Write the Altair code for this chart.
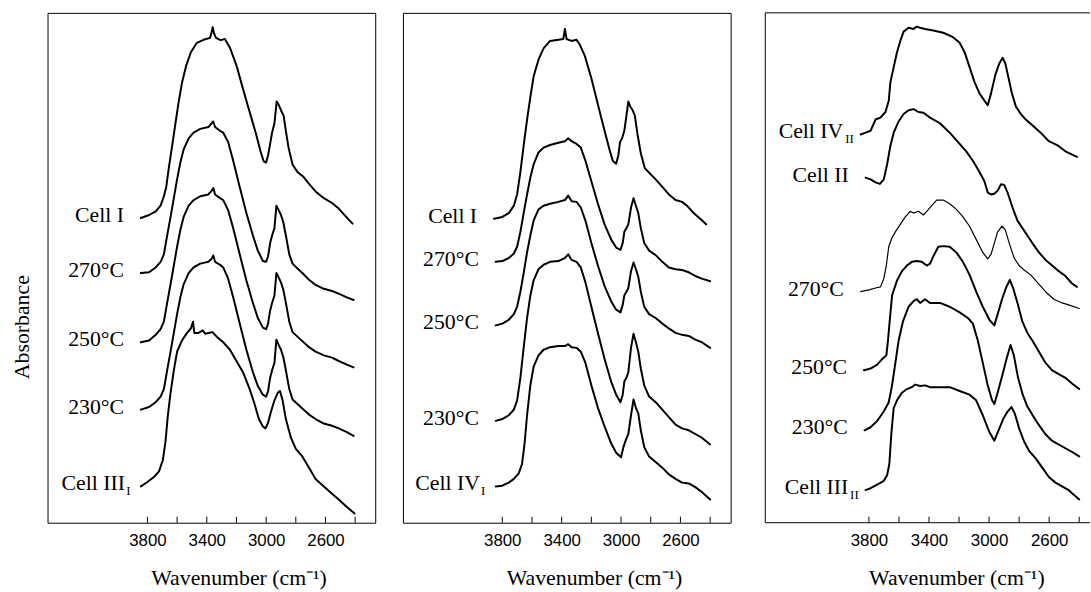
import altair as alt
import pandas as pd

SERIF = "Liberation Serif"
SANS = "Liberation Sans"

# ---------------- Panel 1 ----------------
P1_WN_CELL1 = [3844, 3789, 3744, 3711, 3689, 3673, 3656, 3633, 3611, 3589, 3567, 3538, 3507, 3467, 3422,
               3378, 3369, 3360, 3351, 3338, 3307, 3278, 3244, 3200, 3156, 3111, 3067, 3038, 3016, 3000,
               2987, 2973, 2960, 2944, 2929, 2916, 2900, 2882, 2867, 2849, 2822, 2789, 2751, 2711, 2667,
               2611, 2556, 2511, 2456, 2418]
P1_AB_CELL1 = [271.3, 274, 277.3, 282.3, 290.7, 299, 315.7, 335.7, 355.7, 375, 391.7, 407.3, 419, 427.3, 430,
               431.7, 435.7, 441.3, 435.7, 431.7, 429.7, 430.7, 423, 407.3, 386.3, 365.7, 345.7, 330.7, 321.7, 320.7,
               327.3, 337.3, 347.3, 355.7, 375, 372.3, 367.3, 362.3, 349, 334, 319, 312.3, 308.3, 301.7, 295,
               289, 284.7, 279.7, 271.7, 266.3]
P1_WN_T = [3844, 3789, 3744, 3711, 3689, 3667, 3644, 3622, 3600, 3578, 3556, 3522, 3489, 3444, 3389,
           3367, 3356, 3344, 3311, 3289, 3256, 3222, 3178, 3133, 3089, 3056, 3022, 3000, 2987, 2973,
           2960, 2944, 2931, 2918, 2900, 2884, 2867, 2844, 2822, 2789, 2756, 2711, 2667, 2611, 2556,
           2511, 2456, 2411]
P1_AB_270 = [222.3, 223, 227.3, 232.3, 239, 255.7, 272.3, 289, 305.7, 320.7, 332.3, 342.3, 347.3, 350.7, 352.3,
             355.7, 357.3, 352.3, 349, 347.3, 339, 322.3, 299, 275.7, 255.7, 242.3, 233, 232.3, 237.3, 249,
             255.7, 262.3, 282.3, 279, 274, 267.3, 255.7, 239, 230.7, 226.3, 222.3, 216.3, 211.7, 208.3, 206.3,
             204, 200.7, 198.3]
P1_AB_250 = [160.7, 162.3, 167.3, 172.3, 179, 195.7, 212.3, 229, 245.7, 260.7, 272.3, 282.3, 287.3, 290.7, 292.3,
             295.7, 298, 292.3, 289, 287.3, 278.3, 262.3, 239, 215.7, 195.7, 182.3, 173.7, 172.3, 177.3, 189,
             195.7, 202.3, 222.3, 219, 214, 207.3, 195.7, 179, 169.7, 165.7, 161.7, 156.3, 152.3, 149, 147,
             144, 140.7, 138.3]
P1_AB_230 = [100.7, 103, 107.3, 112.3, 119, 135.7, 152.3, 169, 185.7, 200.7, 212.3, 222.3, 227.3, 230.7, 232.3,
             235, 238, 232.3, 229.7, 227.3, 217.3, 200.7, 177.3, 154, 134, 121.7, 114, 112.3, 117.3, 129,
             135.7, 142.3, 163, 159, 154, 147.3, 135.7, 119, 109.7, 105.7, 101.7, 96.3, 92.3, 88.3, 86.3,
             84, 80.7, 77.3]
P1_WN_CELL3 = [3844, 3800, 3756, 3722, 3696, 3678, 3662, 3644, 3622, 3600, 3567, 3533, 3507, 3493, 3484,
               3456, 3427, 3411, 3389, 3362, 3333, 3289, 3244, 3200, 3156, 3111, 3078, 3049, 3022, 3004,
               2987, 2967, 2944, 2922, 2907, 2889, 2867, 2833, 2800, 2756, 2711, 2667, 2611, 2556, 2511,
               2456, 2404]
P1_AB_CELL3 = [32.3, 36.3, 40.7, 45.7, 55.7, 72.3, 95.7, 115.7, 135.7, 152.3, 162.3, 169, 173, 179, 169,
               169, 171.3, 168.3, 169, 169.7, 165.7, 160.7, 154, 144, 134, 119, 105.7, 92.3, 85.7, 84,
               89, 99, 109, 115.7, 117.3, 109, 92.3, 75.7, 65.7, 59, 49, 39, 32.3, 25.7, 20.7,
               14, 8.3]

# ---------------- Panel 2 ----------------
P2_WN_CELL1 = [3856, 3800, 3756, 3722, 3700, 3678, 3656, 3633, 3611, 3589, 3556, 3522, 3478, 3422, 3389,
               3378, 3367, 3333, 3300, 3278, 3244, 3200, 3156, 3111, 3078, 3056, 3033, 3018, 3007, 2993,
               2978, 2964, 2951, 2938, 2922, 2907, 2889, 2867, 2840, 2804, 2767, 2722, 2678, 2633, 2589,
               2556, 2511, 2467, 2427]
P2_AB_CELL1 = [270.7, 272.3, 275.7, 282.3, 292.3, 312.3, 335.7, 359, 379, 397.3, 412.3, 422.3, 429, 430, 430.7,
               439.7, 430.7, 429, 430, 425.7, 415.7, 395.7, 372.3, 349, 332.3, 322.3, 319.7, 327.3, 339, 342.3,
               349, 362.3, 375, 370.7, 367.3, 362.3, 345.7, 329, 315.7, 310.7, 305.7, 299, 292.3, 287.3, 285.7,
               282.3, 275.7, 270.7, 265.7]
P2_WN_T = [3844, 3800, 3756, 3722, 3700, 3678, 3656, 3633, 3611, 3589, 3556, 3522, 3478, 3422, 3378,
           3356, 3333, 3300, 3271, 3240, 3200, 3156, 3111, 3067, 3033, 3004, 2989, 2978, 2964, 2951,
           2933, 2916, 2900, 2884, 2867, 2844, 2811, 2767, 2722, 2678, 2633, 2589, 2544, 2500, 2456,
           2400]
P2_AB_270 = [232.3, 233, 235.7, 239.7, 245.7, 259, 275.7, 292.3, 307.3, 319, 329.7, 334, 336.3, 338.3, 339.7,
             342.3, 339.7, 337.3, 334, 322.3, 304, 284, 265.7, 252.3, 245, 243, 249, 259, 262.3, 265.7,
             280.7, 289, 282.3, 275.7, 262.3, 249, 242.3, 238.3, 232.3, 227.3, 225.7, 225, 223, 219.7, 217.3,
             215]
P2_AB_250 = [175.7, 177.3, 180.7, 185.7, 192.3, 205.7, 222.3, 240.7, 255.7, 269, 279, 282.3, 284, 285.7, 287.3,
             291.3, 286.3, 285.7, 280.7, 269, 249, 229, 210.7, 197.3, 189.7, 187.3, 194, 202.3, 205.7, 209,
             224, 231.7, 225.7, 219, 205.7, 192.3, 185.7, 182.3, 177.3, 173, 169, 167.3, 166.3, 163, 160.7,
             155.7]
P2_AB_230 = [90.7, 92.3, 95.7, 100.7, 109, 129, 155.7, 182.3, 202.3, 215.7, 225.7, 229.7, 232.3, 233, 235.7,
             239, 234, 232.3, 227.3, 214, 192.3, 169, 145.7, 125.7, 114, 107.3, 114, 125.7, 129, 134,
             155.7, 168.3, 160.7, 152.3, 137.3, 122.3, 112.3, 107.3, 100.7, 94, 87.3, 84, 82.3, 79, 75.7,
             69.7]
P2_WN_CELL4 = [3844, 3800, 3756, 3722, 3689, 3667, 3651, 3633, 3611, 3589, 3556, 3522, 3478, 3422, 3378,
               3356, 3333, 3300, 3271, 3240, 3200, 3156, 3111, 3067, 3033, 3000, 2984, 2967, 2951, 2933,
               2916, 2900, 2884, 2867, 2844, 2811, 2767, 2722, 2678, 2633, 2589, 2544, 2500, 2456, 2400]
P2_AB_CELL4 = [32.3, 33, 35.7, 39, 44, 52.3, 69, 95.7, 122.3, 139, 149, 154, 156.3, 157.3, 157.3,
               159, 156.3, 155.7, 152.3, 142.3, 122.3, 102.3, 85.7, 70.7, 62.3, 58.3, 67.3, 74, 79, 95.7,
               109.7, 102.3, 97.3, 82.3, 67.3, 59, 54, 49, 43, 39, 35.7, 35, 31.7, 27.3, 20.7]

# ---------------- Panel 3 ----------------
P3_WN_CELL4 = [3855, 3822, 3789, 3756, 3723, 3690, 3668, 3657, 3635, 3613, 3591, 3569, 3536, 3503, 3481,
               3459, 3426, 3371, 3305, 3240, 3196, 3163, 3130, 3097, 3064, 3031, 3009, 2987, 2958, 2932,
               2910, 2892, 2870, 2848, 2822, 2789, 2756, 2712, 2657, 2602, 2547, 2492, 2415]
P3_AB_CELL4 = [345.7, 347.3, 349, 359, 360.7, 365.7, 375.7, 392.3, 405.7, 419, 429, 437.3, 440.7, 439.7, 441.7,
               440.7, 439.7, 438.3, 436.3, 432.3, 427.3, 419, 405.7, 392.3, 382.3, 375.7, 371.7, 382.3, 399, 409,
               414, 409, 395.7, 382.3, 370.7, 364, 359, 354, 347.3, 339.7, 336.3, 330.7, 325.7]
P3_WN_CELL2 = [3822, 3789, 3756, 3727, 3701, 3679, 3657, 3635, 3602, 3569, 3536, 3503, 3470, 3437, 3393,
               3327, 3262, 3196, 3152, 3108, 3064, 3031, 3009, 2987, 2965, 2943, 2921, 2899, 2877, 2844,
               2811, 2778, 2745, 2712, 2668, 2624, 2580, 2536, 2492, 2448, 2415]
P3_AB_CELL2 = [307.3, 305.7, 303, 301.7, 305.7, 319, 335.7, 347.3, 357.3, 364, 367.3, 368.3, 365.7, 365, 360.7,
               355.7, 347.3, 337.3, 330.7, 322.3, 312.3, 304, 294, 292.3, 293, 295.7, 301.3, 300.7, 294, 280.7,
               269, 262.3, 255.7, 249, 240.7, 234, 229, 224, 219.7, 213, 210]
P3_WN_270 = [3855, 3800, 3756, 3723, 3701, 3684, 3668, 3646, 3624, 3591, 3558, 3525, 3503, 3470, 3437,
             3415, 3382, 3349, 3305, 3262, 3218, 3174, 3130, 3086, 3042, 3009, 2987, 2965, 2943, 2914,
             2892, 2866, 2833, 2800, 2767, 2723, 2679, 2624, 2569, 2514, 2470, 2400]
P3_AB_270 = [205.7, 207.3, 209, 210, 217.3, 229, 245.7, 254, 259, 265.7, 272.3, 277.3, 275.7, 277.3, 274,
             277.3, 282.3, 287.3, 287.3, 284, 279, 272.3, 264, 252.3, 240.7, 235, 239, 249, 259, 264,
             260.7, 249, 235.7, 229, 225, 220.7, 214, 205.7, 199, 195.7, 194, 190.7]
P3_WN_250 = [3833, 3789, 3745, 3712, 3684, 3673, 3662, 3646, 3613, 3580, 3547, 3514, 3481, 3448, 3415,
             3393, 3371, 3338, 3305, 3262, 3218, 3174, 3130, 3086, 3042, 2998, 2965, 2943, 2914, 2888,
             2862, 2840, 2811, 2778, 2745, 2712, 2668, 2624, 2580, 2536, 2492, 2448, 2400]
P3_AB_250 = [135.7, 137.3, 140.7, 145.7, 149, 162.3, 179, 202.3, 215.7, 224, 229, 232.3, 233, 232.3, 229,
             230.7, 237.3, 245.7, 246.3, 245.7, 240.7, 232.3, 220.7, 205.7, 192.3, 180.7, 175.7, 185.7, 199, 209,
             216.3, 209, 195.7, 179, 169, 162.3, 152.3, 142.3, 135.7, 132.3, 129, 124, 119]
P3_WN_230 = [3829, 3789, 3745, 3701, 3668, 3646, 3624, 3602, 3574, 3536, 3503, 3481, 3459, 3426, 3393,
             3327, 3262, 3196, 3141, 3108, 3075, 3042, 3009, 2980, 2965, 2943, 2910, 2884, 2857, 2835,
             2807, 2776, 2747, 2710, 2670, 2626, 2582, 2538, 2492, 2448, 2400]
P3_AB_230 = [82.3, 85, 90.7, 99, 107.3, 122.3, 142.3, 162.3, 179, 192.3, 197.3, 199, 195.7, 199, 195.7,
             195.7, 192.3, 187.3, 182.3, 177.3, 162.3, 142.3, 122.3, 109, 105.7, 115.7, 132.3, 145.7, 158.3, 149,
             129, 114, 104, 95.7, 87.3, 79, 73, 69.7, 66.3, 63, 59]
P3_WN_CELL3 = [3822, 3789, 3745, 3701, 3679, 3664, 3651, 3635, 3613, 3580, 3547, 3514, 3492, 3459, 3426,
               3393, 3327, 3262, 3196, 3130, 3086, 3042, 2998, 2965, 2937, 2906, 2877, 2851, 2829, 2800,
               2767, 2734, 2690, 2646, 2602, 2558, 2514, 2470, 2400]
P3_AB_CELL3 = [29, 30.7, 34, 37.3, 42.3, 52.3, 79, 102.3, 109, 115.7, 119, 120.7, 123, 121.7, 122.3,
               120.7, 120.7, 120.7, 117.3, 114, 109, 95.7, 80.7, 73, 82.3, 92.3, 99, 103, 97.3, 84,
               72.3, 64, 57.3, 49, 40.7, 35.7, 32.3, 29, 20.7]

TICK_VALUES = [3800, 3600, 3400, 3200, 3000, 2800, 2600, 2400]
LABEL_VALUES = [3800, 3400, 3000, 2600]

# (panel, curve id, label, subscript, wavenumbers, absorbances)
CURVES = [
    (1, "p1a", "Cell I", "", P1_WN_CELL1, P1_AB_CELL1),
    (1, "p1b", "270°C", "", P1_WN_T, P1_AB_270),
    (1, "p1c", "250°C", "", P1_WN_T, P1_AB_250),
    (1, "p1d", "230°C", "", P1_WN_T, P1_AB_230),
    (1, "p1e", "Cell III", "I", P1_WN_CELL3, P1_AB_CELL3),
    (2, "p2a", "Cell I", "", P2_WN_CELL1, P2_AB_CELL1),
    (2, "p2b", "270°C", "", P2_WN_T, P2_AB_270),
    (2, "p2c", "250°C", "", P2_WN_T, P2_AB_250),
    (2, "p2d", "230°C", "", P2_WN_T, P2_AB_230),
    (2, "p2e", "Cell IV", "I", P2_WN_CELL4, P2_AB_CELL4),
    (3, "p3a", "Cell IV", "II", P3_WN_CELL4, P3_AB_CELL4),
    (3, "p3b", "Cell II", "", P3_WN_CELL2, P3_AB_CELL2),
    (3, "p3c", "270°C", "", P3_WN_270, P3_AB_270),
    (3, "p3d", "250°C", "", P3_WN_250, P3_AB_250),
    (3, "p3e", "230°C", "", P3_WN_230, P3_AB_230),
    (3, "p3f", "Cell III", "II", P3_WN_CELL3, P3_AB_CELL3),
]
THIN = {"p3c"}

rows, labs = [], []
for panel, cid, main, sub, wn, ab in CURVES:
    assert len(wn) == len(ab), cid
    lw = 1.2 if cid in THIN else 2.0
    for i, (w, a) in enumerate(zip(wn, ab)):
        rows.append({"panel": panel, "curve": cid, "i": i, "wn": w, "ab": a, "lw": lw})
    labs.append({"panel": panel, "curve": cid, "main": main, "sub": sub, "wn": wn[0], "ab": ab[0]})
curves = pd.DataFrame(rows)
labels = pd.DataFrame(labs)
ticks = pd.DataFrame({"wn": TICK_VALUES})

H = 515
YDOM = [0, 454]


def make_panel(panel, width, domain, show_y, frame=True):
    d = curves[curves.panel == panel]
    lab = labels[labels.panel == panel]
    xs = alt.Scale(domain=domain, reverse=True, nice=False, zero=False)
    ys = alt.Scale(domain=YDOM, nice=False, zero=False)
    xaxis = alt.Axis(values=LABEL_VALUES, format="d", title="Wavenumber (cm⁻¹)",
                     ticks=False, domain=False, grid=False,
                     labelFont=SANS, labelFontSize=17, labelColor="black", labelPadding=10,
                     titleFont=SERIF, titleFontSize=22, titleFontWeight="normal", titleColor="black",
                     titleX=193, titleY=55, titleAlign="center", titleBaseline="middle")
    if show_y:
        yaxis = alt.Axis(title="Absorbance", labels=False, ticks=False, domain=False, grid=False,
                         titleFont=SERIF, titleFontSize=22, titleFontWeight="normal", titleColor="black",
                         titleAngle=270, titleX=-26, titleY=317, titleAlign="center",
                         titleBaseline="middle")
    else:
        yaxis = None
    X = alt.X("wn:Q", scale=xs, axis=xaxis)
    Y = alt.Y("ab:Q", scale=ys, axis=yaxis)

    lines = alt.Chart(d).mark_line(color="black", strokeJoin="round", strokeCap="round").encode(
        x=X, y=Y, detail="curve:N", order="i:Q",
        strokeWidth=alt.StrokeWidth("lw:Q", scale=None, legend=None))
    tk = alt.Chart(ticks).mark_rule(color="black", strokeWidth=1).encode(
        x=X, y=alt.value(H), y2=alt.value(H - 6))

    def txt(cond, field, dx, dy, size):
        return alt.Chart(lab).transform_filter(cond).mark_text(
            align="right", baseline="middle", dx=dx, dy=dy, font=SERIF, fontSize=size,
            color="black").encode(x=X, y=Y, text=f"{field}:N")

    layers = [lines, tk,
              txt("datum.sub == ''", "main", -17, -3, 22),
              txt("datum.sub == 'I'", "main", -16, -3, 22),
              txt("datum.sub == 'I'", "sub", -10.5, 5, 13),
              txt("datum.sub == 'II'", "main", -17.5, -3, 22),
              txt("datum.sub == 'II'", "sub", -7, 5, 13)]
    if not frame:
        one = pd.DataFrame({"k": [0]})
        border = alt.Chart(one).mark_rule(color="black", strokeWidth=1)
        layers += [
            border.encode(x=alt.value(0), y=alt.value(0), y2=alt.value(H)),
            border.encode(x=alt.value(0), x2=alt.value(width + 5), y=alt.value(0)),
            border.encode(x=alt.value(0), x2=alt.value(width + 5), y=alt.value(H)),
        ]
    ch = alt.layer(*layers).properties(width=width, height=H)
    if not frame:
        ch = ch.properties(view=alt.ViewBackground(stroke=None))
    return ch


p1 = make_panel(1, 331, [2265, 4473], True)
p2 = make_panel(2, 331, [2262, 4469], False)
p3 = make_panel(3, 323, [2361, 4490], False, frame=False)

chart = alt.hconcat(alt.hconcat(p1, p2, spacing=26), p3, spacing=33).properties(
    padding={"left": 10, "top": 9, "right": 0, "bottom": 0}
).configure_view(stroke="black", strokeWidth=1).configure_concat(spacing=26)

chart.save("out.html", embed_options={"renderer": "svg", "actions": False})
